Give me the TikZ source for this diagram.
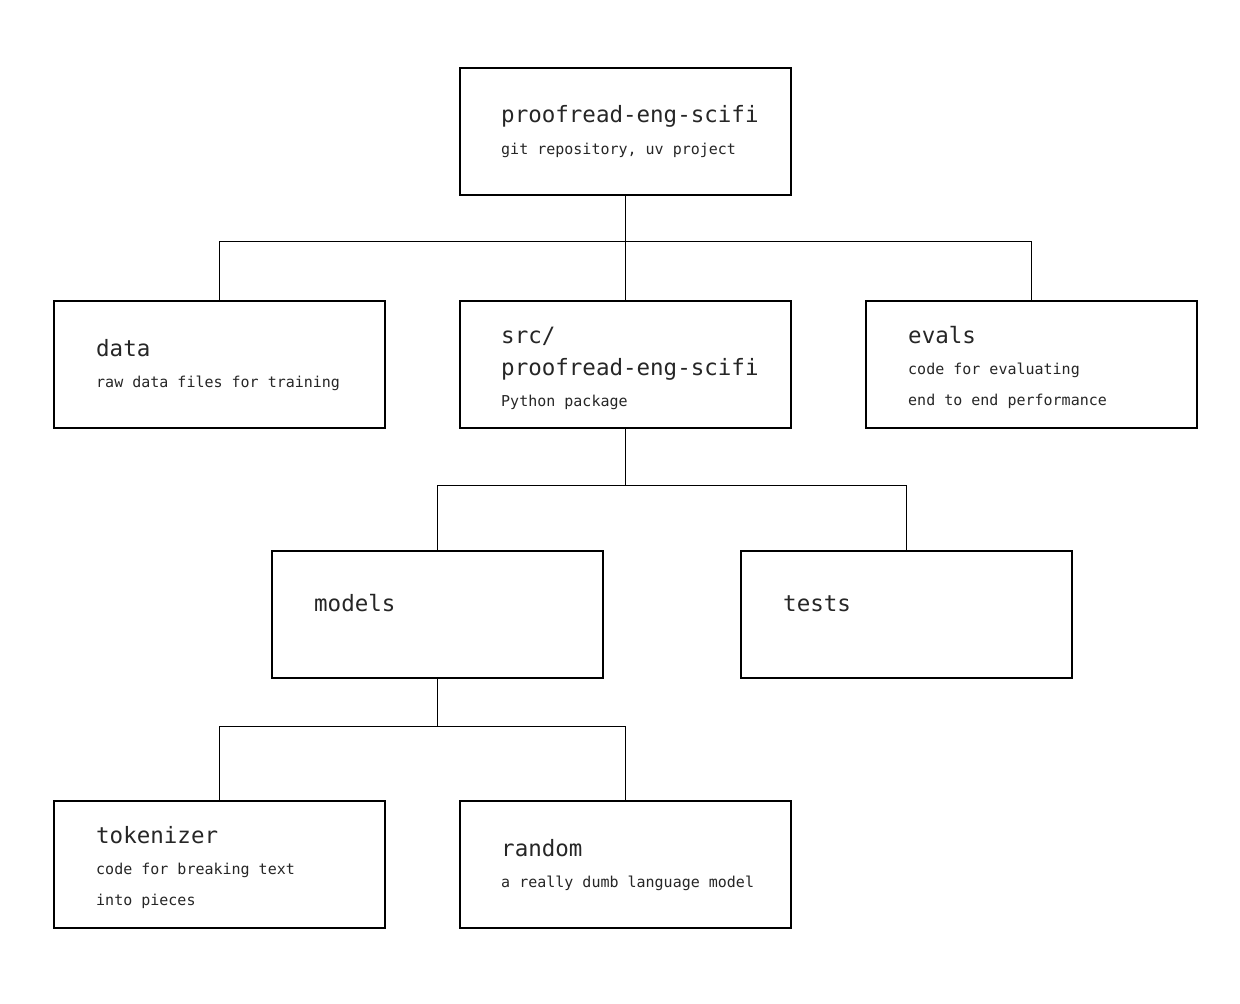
\documentclass[tikz,border=0pt]{standalone}
\usepackage{fontspec}
\setmonofont{DejaVu Sans Mono}
\begin{document}
\begin{tikzpicture}[x=1pt,y=-1pt,
  box/.style={draw,line width=2.2pt,minimum width=331pt,minimum height=127pt,anchor=north west,inner sep=0},
  ttl/.style={anchor=base west,inner sep=0,font=\ttfamily\fontsize{22.5}{31}\selectfont,text=black!85},
  sub/.style={anchor=base west,inner sep=0,font=\ttfamily\fontsize{15}{31}\selectfont,text=black!85},
  link/.style={draw,line width=0.8pt}]
\useasboundingbox[fill=white] (0,0) rectangle (1240,1004);
\node[box] (root) at (459,67) {};
\node[box] (data) at (53,300) {};
\node[box] (src) at (459,300) {};
\node[box] (evals) at (865,300) {};
\node[box] (models) at (271,550) {};
\node[box] (tests) at (740,550) {};
\node[box] (tok) at (53,800) {};
\node[box] (rand) at (459,800) {};
\path[link] (root.south) -- ++(0,45) coordinate (j1) -| (data.north);
\path[link] (j1) -| (evals.north);
\path[link] (j1) -- (src.north);
\path[link] (src.south) -- ++(0,56) coordinate (j2) -| (models.north);
\path[link] (j2) -| (tests.north);
\path[link] (models.south) -- ++(0,47) coordinate (j3) -| (tok.north);
\path[link] (j3) -| (rand.north);
\node[ttl] (t1) at (501,122) {proofread-eng-scifi};
\node[sub] (s1) at (501,154) {git repository, uv project};
\node[ttl] (t2) at (96,356) {data};
\node[sub] (s2) at (96,387) {raw data files for training};
\node[ttl] (t3) at (501,343) {src/};
\node[ttl] (t3b) at (501,375) {proofread-eng-scifi};
\node[sub] (s3) at (501,406) {Python package};
\node[ttl] (t4) at (908,343) {evals};
\node[sub] (s4) at (908,374) {code for evaluating};
\node[sub] (s4b) at (908,405) {end to end performance};
\node[ttl] (t5) at (314,611) {models};
\node[ttl] (t6) at (783,611) {tests};
\node[ttl] (t7) at (96,843) {tokenizer};
\node[sub] (s7) at (96,874) {code for breaking text};
\node[sub] (s7b) at (96,905) {into pieces};
\node[ttl] (t8) at (501,856) {random};
\node[sub] (s8) at (501,887) {a really dumb language model};
\end{tikzpicture}
\end{document}
